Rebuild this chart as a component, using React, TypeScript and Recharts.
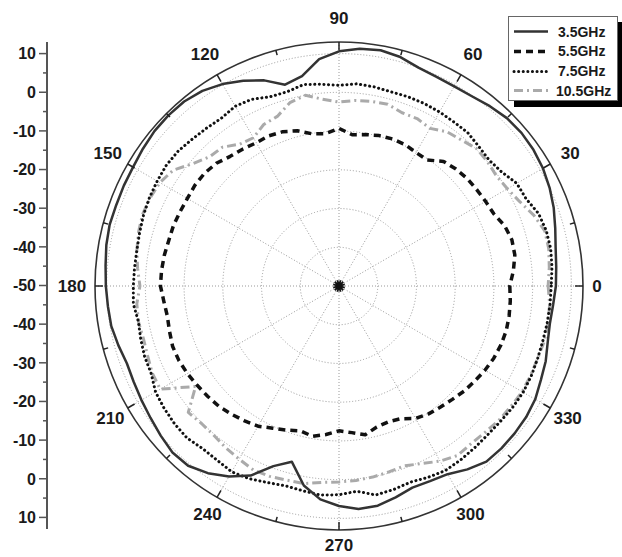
import React from 'react';
import {
  RadarChart,
  Radar,
  PolarGrid,
  PolarAngleAxis,
  PolarRadiusAxis,
  Legend,
  LineChart,
  YAxis,
} from 'recharts';

// angle (deg), 0 at right, counter-clockwise
const angles = [
  0, 5, 10, 15, 20, 25, 30, 35, 40, 45, 50, 55, 60, 65, 70, 75, 80, 85,
  90, 95, 100, 105, 110, 115, 120, 125, 130, 135, 140, 145, 150, 155, 160, 165, 170, 175,
  180, 185, 190, 195, 200, 205, 210, 215, 220, 225, 230, 235, 240, 245, 250, 255, 260, 265,
  270, 275, 280, 285, 290, 295, 300, 305, 310, 315, 320, 325, 330, 335, 340, 345, 350, 355,
];

// gain in dB
const ghz35 = [
  6.0, 6.3, 6.8, 7.8, 9.0, 10.0, 10.8, 11.3, 11.5, 11.3, 10.6, 9.8, 9.5, 9.6, 10.0, 11.2, 11.8, 11.5,
  10.6, 8.8, 5.0, 3.8, 6.5, 8.5, 10.2, 11.5, 12.2, 12.3, 12.2, 11.8, 11.4, 11.3, 11.2, 11.3, 11.0, 10.5,
  10.2, 9.9, 9.7, 9.0, 8.3, 8.5, 8.9, 9.4, 10.1, 10.8, 10.6, 9.0, 6.8, 4.0, -0.5, -3.0, 2.3, 5.3,
  6.8, 7.8, 7.6, 6.5, 5.4, 5.6, 6.1, 7.8, 9.2, 9.3, 9.2, 9.0, 8.5, 7.5, 6.8, 5.8, 5.3, 5.5,
];
const ghz55 = [
  -5.9, -4.8, -3.9, -3.8, -4.5, -5.9, -6.3, -6.6, -6.8, -7.3, -8.0, -10.3, -10.2, -9.7, -9.6, -9.8, -10.3, -10.8,
  -9.3, -10.5, -10.1, -8.5, -7.6, -7.2, -7.3, -6.8, -6.3, -5.2, -4.7, -4.6, -4.8, -4.7, -4.5, -4.5, -4.2, -4.0,
  -3.9, -4.6, -5.0, -4.7, -4.3, -4.4, -4.8, -5.3, -5.7, -6.1, -6.8, -7.5, -8.2, -9.5, -10.4, -11.3, -10.6, -11.5,
  -12.6, -12.0, -11.0, -12.3, -12.7, -12.2, -10.5, -9.7, -9.2, -8.6, -7.8, -7.2, -6.5, -5.9, -5.5, -5.3, -5.4, -5.6,
];
const ghz75 = [
  4.8, 5.2, 5.5, 5.4, 4.8, 3.3, 3.0, 1.3, 0.6, 1.0, 1.7, 1.7, 1.9, 2.0, 2.0, 1.9, 2.2, 2.4,
  1.8, 2.3, 2.8, 1.9, 2.0, 3.2, 3.6, 2.9, 3.2, 3.6, 4.2, 4.4, 4.2, 4.0, 3.7, 3.3, 3.0, 3.0,
  3.1, 3.3, 2.6, 3.0, 3.4, 3.5, 4.7, 5.1, 5.4, 5.5, 4.8, 4.9, 5.4, 4.9, 4.0, 3.4, 3.7, 4.2,
  3.9, 3.2, 4.8, 4.4, 3.9, 4.5, 5.0, 4.8, 4.5, 4.3, 4.4, 4.7, 4.9, 4.8, 4.6, 4.5, 4.6, 4.7,
];
const ghz105 = [
  4.0, 4.5, 5.0, 5.0, 3.5, 1.5, 0.2, -0.4, 0.0, 0.2, -0.8, -1.4, -3.0, -2.3, -2.4, -1.4, -1.6, -1.9,
  -2.5, -1.6, 0.0, -1.0, -3.4, -4.0, -5.8, -5.3, -3.2, -2.8, -0.8, 2.2, 3.4, 3.8, 4.0, 3.6, 3.0, 2.2,
  1.4, 2.4, 2.6, 2.3, 2.6, 3.2, 3.3, -4.8, 0.8, 0.2, 0.3, 1.0, 1.6, 2.4, 2.3, 1.9, 1.8, 0.9,
  0.6, 0.4, 0.1, -0.3, -0.6, 0.6, 2.2, 3.4, 3.1, 3.4, 3.9, 4.2, 4.6, 4.6, 4.6, 4.9, 4.8, 4.6,
];

const gridLevels = [-40, -30, -20, -10, 0, 10];
const spokeAngles = [0, 30, 60, 90, 120, 150, 180, 210, 240, 270, 300, 330];
const leftTicks = [
  -110, -105, -100, -95, -90, -85, -80, -75, -70, -65, -60, -55, -50,
  -45, -40, -35, -30, -25, -20, -15, -10, -5, 0, 5, 10,
];

// the angle axis runs 360 -> 0, so rows go 0, 355, 350 ... 5 to keep 0 deg at right, CCW
const order = angles.map((_, i) => (i === 0 ? 0 : angles.length - i));
const data = order.map((i) => ({
  angle: angles[i],
  f35: ghz35[i],
  f55: ghz55[i],
  f75: ghz75[i],
  f105: ghz105[i],
}));

const series = [
  { key: 'f35', name: '3.5GHz', stroke: '#333', width: 2.5, dash: undefined as string | undefined, cap: 'butt' },
  { key: 'f55', name: '5.5GHz', stroke: '#111', width: 3.5, dash: '7 5', cap: 'butt' },
  { key: 'f75', name: '7.5GHz', stroke: '#111', width: 3, dash: '0.1 4.5', cap: 'round' },
  { key: 'f105', name: '10.5GHz', stroke: '#aaa', width: 3, dash: '9 4 2 4', cap: 'butt' },
];

const FONT = '"Liberation Sans", Arial, sans-serif';

function AngleTick(props: any) {
  const { x, y, payload } = props;
  const a = Number(payload.value);
  const rad = (a * Math.PI) / 180;
  const c = Math.cos(rad);
  const s = Math.sin(rad);
  const out: React.ReactNode[] = [];
  if (a % 15 === 0) {
    const len = a % 30 === 0 ? 8 : 5;
    out.push(
      <line key="t" x1={x - 8 * c} y1={y + 8 * s} x2={x - (8 + len) * c} y2={y + (8 + len) * s}
        stroke="#222" strokeWidth={1.5} />
    );
  }
  if (a % 30 === 0) {
    let off = 21.5 + 3 * s;
    if (a === 0) off = 14;
    if (a === 180) off = 23;
    if (a === 270) off = 15;
    const d = off - 8;
    out.push(
      <text key="l" x={x + d * c} y={y - d * s} dy="0.36em" textAnchor="middle"
        fontFamily={FONT} fontWeight={700} fontSize={17} fill="#1a1a1a">
        {a}
      </text>
    );
  }
  return <g>{out}</g>;
}

function LeftTick(props: any) {
  const { x, y, payload } = props;
  const v = Number(payload.value);
  const major = v % 10 === 0;
  const label = v >= -50 ? v : -100 - v;
  return (
    <g>
      <line x1={major ? x + 3 : x + 7} x2={x + 11} y1={y} y2={y} stroke="#555" strokeWidth={1.5} />
      {major && (
        <text x={x} y={y} dy="0.36em" textAnchor="end" fontFamily={FONT} fontWeight={700}
          fontSize={16} fill="#1a1a1a">
          {label}
        </text>
      )}
    </g>
  );
}

function LegendBox() {
  return (
    <div style={{
      position: 'relative', width: 110, height: 85, border: '1px solid #666', background: '#fff',
      boxShadow: '6px 6px 0 #000', fontFamily: FONT, fontWeight: 700, fontSize: 14, color: '#1a1a1a',
      boxSizing: 'border-box',
    }}>
      {series.map((s, i) => (
        <div key={s.key} style={{
          position: 'absolute', left: 0, top: 6 + i * 19.8, height: 17, display: 'flex', alignItems: 'center',
        }}>
          <svg width={46} height={17} style={{ display: 'block' }}>
            <line x1={5} x2={39} y1={8.5} y2={8.5} stroke={s.stroke} strokeWidth={s.width}
              strokeDasharray={s.dash} strokeLinecap={s.cap as any} />
          </svg>
          <span style={{ marginLeft: i === 3 ? 1 : 3, whiteSpace: 'nowrap' }}>{s.name}</span>
        </div>
      ))}
    </div>
  );
}

export default function App() {
  return (
    <div style={{ position: 'absolute', left: 0, top: 0, width: 622, height: 557, background: '#fff' }}>
      <div style={{ position: 'absolute', left: 0, top: 0 }}>
        <LineChart width={60} height={557} data={[]} margin={{ top: 42, bottom: 28, left: 0, right: 0 }}>
          <YAxis type="number" domain={[-113, 13]} ticks={leftTicks} interval={0} width={47}
            allowDataOverflow axisLine={{ stroke: '#555', strokeWidth: 2 }} tickLine={false}
            tickSize={8} tickMargin={3} tick={<LeftTick />} />
        </LineChart>
      </div>
      <div style={{ position: 'absolute', left: 0, top: 0 }}>
        <RadarChart width={622} height={557} data={data} cx={339} cy={286} outerRadius={244}
          startAngle={360} endAngle={0} margin={{ top: 0, right: 0, bottom: 0, left: 0 }}>
          <PolarGrid gridType="circle" polarAngles={spokeAngles} stroke="#999" strokeDasharray="1 2" />
          <PolarAngleAxis dataKey="angle" type="category" axisLineType="circle"
            axisLine={{ stroke: '#333', strokeWidth: 1.6 }} tickLine={false} tickSize={8} tick={<AngleTick />} />
          <PolarRadiusAxis type="number" domain={[-50, 13]} ticks={gridLevels} allowDataOverflow
            tick={false} axisLine={false} />
          {[...series].reverse().map((s) => (
            <Radar key={s.key} name={s.name} dataKey={s.key} stroke={s.stroke} strokeWidth={s.width}
              strokeDasharray={s.dash} strokeLinecap={s.cap as any} strokeLinejoin="round"
              fill="none" fillOpacity={0} dot={false} activeDot={false} isAnimationActive={false} />
          ))}
          <Legend layout="vertical" verticalAlign="top" align="right" content={<LegendBox />}
            wrapperStyle={{ left: 508, top: 16, width: 116, right: 'auto' }} />
        </RadarChart>
      </div>
      <svg width={622} height={557} style={{ position: 'absolute', left: 0, top: 0, pointerEvents: 'none' }}>
        {spokeAngles.map((a) => (
          <line key={a} x1={339} y1={286}
            x2={339 + 6 * Math.cos(((a + 15) * Math.PI) / 180)} y2={286 - 6 * Math.sin(((a + 15) * Math.PI) / 180)}
            stroke="#111" strokeWidth={1.8} />
        ))}
        <circle cx={339} cy={286} r={3.5} fill="#111" />
      </svg>
    </div>
  );
}
